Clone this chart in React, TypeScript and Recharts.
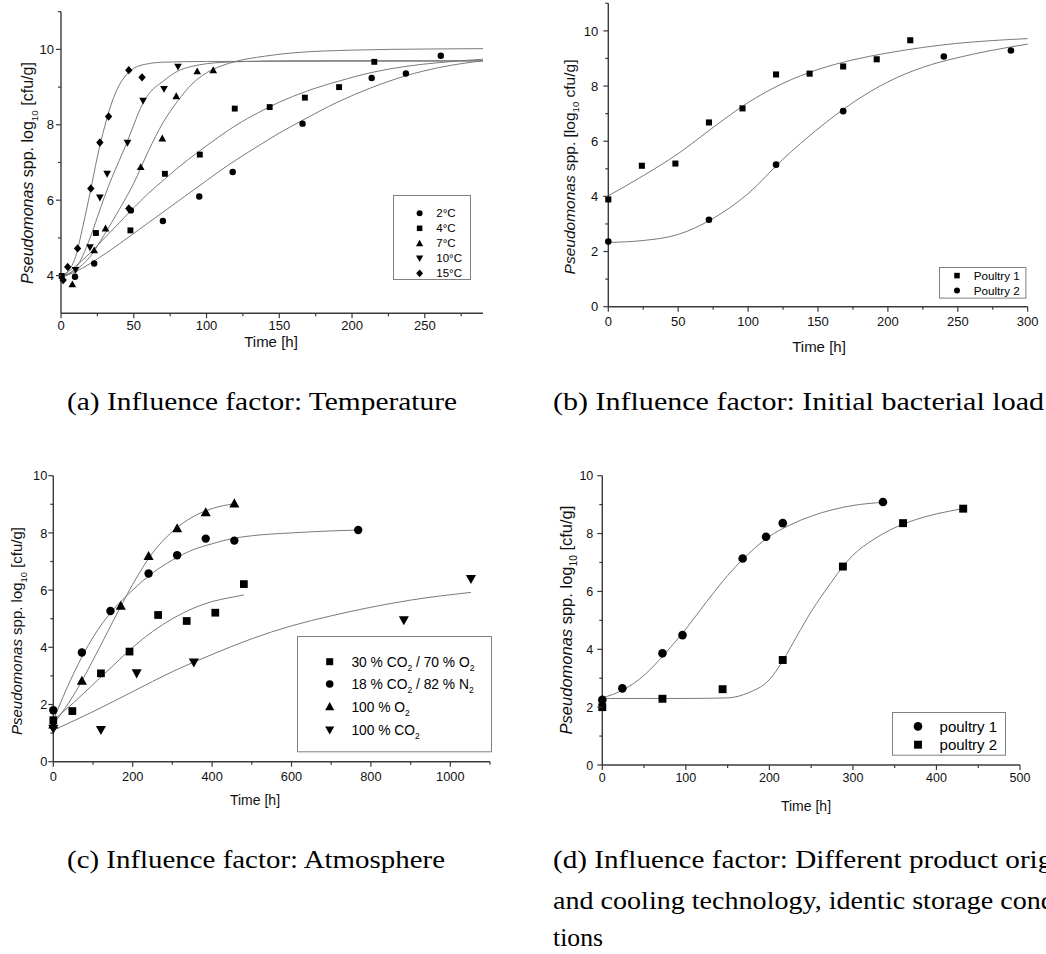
import React from "react";
import { ComposedChart, Line, Scatter, XAxis, YAxis, Legend } from "recharts";

const AXIS = "#3a3a3a";
const CURVE = "#7a7a7a";
const SANS = "'Liberation Sans', Arial, sans-serif";
const SERIF = "'Liberation Serif', 'Times New Roman', serif";

type Pair = [number, number];
type Kind = "circle" | "square" | "triangle" | "down" | "diamond";

// ---- (a) temperature: [time h, log10 cfu/g]
const tempLabels = ["2°C", "4°C", "7°C", "10°C", "15°C"];
const temp2C: Pair[] = [[9.6, 3.97], [22.8, 4.32], [48, 5.73], [70, 5.45], [95, 6.1], [118, 6.75], [166, 8.03], [213.5, 9.24], [237, 9.36], [261, 9.83]];
const temp4C: Pair[] = [[0.5, 3.99], [24, 5.13], [47.7, 5.2], [71.4, 6.7], [95.4, 7.21], [119.4, 8.43], [143.4, 8.47], [167.6, 8.72], [191.1, 9.0], [215.3, 9.67]];
const temp7C: Pair[] = [[7.8, 3.77], [22.8, 4.67], [30.6, 5.25], [54.8, 6.88], [69.6, 7.64], [79.2, 8.76], [93.6, 9.42], [104.6, 9.45]];
const temp10C: Pair[] = [[10, 4.15], [19.9, 4.75], [26.7, 6.07], [31.7, 6.7], [45.7, 7.52], [56.4, 8.64], [70.8, 8.95], [80.4, 9.54]];
const temp15C: Pair[] = [[1.5, 3.88], [4.6, 4.23], [11.4, 4.72], [20.5, 6.31], [26.7, 7.53], [32.7, 8.22], [46.6, 5.78], [46.6, 9.45], [55.7, 9.26]];
const temp2CFit: Pair[] = [[0, 3.95], [10, 4.1], [20, 4.32], [30, 4.57], [40, 4.84], [50, 5.12], [60, 5.4], [70, 5.68], [80, 5.96], [90, 6.24], [100, 6.52], [110, 6.8], [120, 7.06], [136, 7.45], [150, 7.78], [166, 8.12], [190, 8.6], [213, 8.98], [237, 9.3], [260, 9.52], [290, 9.7]];
const temp4CFit: Pair[] = [[0, 3.98], [10, 4.25], [20, 4.6], [30, 5.0], [40, 5.4], [50, 5.8], [60, 6.18], [71, 6.55], [80, 6.85], [95, 7.3], [110, 7.72], [120, 7.98], [136, 8.33], [150, 8.6], [168, 8.88], [191, 9.16], [215, 9.4], [237, 9.55], [260, 9.65], [290, 9.74]];
const temp7CFit: Pair[] = [[0, 3.98], [10, 4.15], [20, 4.5], [30, 5.1], [40, 5.75], [50, 6.45], [60, 7.3], [70, 8.05], [80, 8.62], [90, 9.08], [100, 9.38], [110, 9.56], [120, 9.68], [140, 9.82], [160, 9.91], [200, 9.98], [250, 10.01], [290, 10.02]];
const temp10CFit: Pair[] = [[0, 3.98], [10, 4.2], [20, 5.0], [25, 5.55], [30, 6.1], [35, 6.6], [40, 7.05], [45, 7.5], [50, 8.0], [56, 8.55], [60, 8.8], [70, 9.15], [80, 9.42], [90, 9.55], [100, 9.62], [120, 9.67], [160, 9.7], [290, 9.7]];
const temp15CFit: Pair[] = [[0, 3.98], [5, 4.12], [10, 4.5], [15, 5.3], [20, 6.2], [25, 7.15], [30, 7.95], [35, 8.6], [40, 9.05], [45, 9.33], [50, 9.5], [60, 9.62], [70, 9.66], [100, 9.68], [290, 9.69]];

// ---- (b) initial bacterial load
const loadLabels = ["Poultry 1", "Poultry 2"];
const loadP1: Pair[] = [[0, 3.89], [24, 5.11], [48, 5.19], [72, 6.68], [96, 7.19], [120, 8.42], [144, 8.45], [168, 8.71], [192, 8.97], [216, 9.66]];
const loadP2: Pair[] = [[0, 2.36], [72, 3.15], [120, 5.15], [168, 7.09], [240, 9.07], [288, 9.29]];
const loadP1Fit: Pair[] = [[0, 4.02], [25, 4.75], [50, 5.55], [75, 6.5], [100, 7.4], [125, 8.1], [150, 8.6], [175, 8.95], [200, 9.2], [225, 9.4], [250, 9.55], [275, 9.65], [300, 9.72]];
const loadP2Fit: Pair[] = [[0, 2.33], [25, 2.4], [50, 2.62], [75, 3.2], [100, 4.1], [125, 5.35], [150, 6.45], [175, 7.4], [200, 8.15], [225, 8.68], [250, 9.03], [275, 9.3], [300, 9.52]];

// ---- (c) atmosphere
const atmoLabels = ["30 % CO_2 / 70 % O_2", "18 % CO_2 / 82 % N_2", "100 % O_2", "100 % CO_2"];
const atmoCO2O2: Pair[] = [[0, 1.45], [48, 1.77], [120, 3.09], [192, 3.85], [264, 5.13], [336, 4.92], [408, 5.21], [480, 6.21]];
const atmoCO2N2: Pair[] = [[0, 1.8], [72, 3.82], [144, 5.27], [240, 6.58], [312, 7.22], [384, 7.8], [456, 7.73], [768, 8.1]];
const atmoO2: Pair[] = [[0, 1.3], [72, 2.83], [170, 5.45], [240, 7.19], [312, 8.16], [384, 8.72], [456, 9.03]];
const atmoCO2: Pair[] = [[0, 1.15], [120, 1.11], [210, 3.09], [354, 3.47], [883, 4.95], [1052, 6.39]];
const atmoCO2O2Fit: Pair[] = [[0, 1.45], [50, 2.05], [100, 2.7], [150, 3.35], [200, 4.0], [250, 4.55], [300, 5.0], [350, 5.35], [400, 5.6], [450, 5.75], [480, 5.83]];
const atmoCO2N2Fit: Pair[] = [[0, 1.45], [50, 3.05], [100, 4.35], [150, 5.3], [200, 6.0], [250, 6.6], [300, 7.05], [350, 7.4], [400, 7.62], [450, 7.8], [500, 7.9], [600, 8.0], [700, 8.07], [768, 8.1]];
const atmoO2Fit: Pair[] = [[0, 1.3], [50, 2.3], [100, 3.55], [150, 4.9], [200, 6.2], [250, 7.3], [300, 8.05], [350, 8.55], [400, 8.85], [456, 9.02]];
const atmoCO2Fit: Pair[] = [[0, 1.1], [100, 1.75], [200, 2.45], [300, 3.15], [400, 3.75], [500, 4.3], [600, 4.75], [700, 5.1], [800, 5.4], [900, 5.65], [1052, 5.92]];

// ---- (d) product origin / cooling
const originLabels = ["poultry 1", "poultry 2"];
const originP1: Pair[] = [[0, 2.25], [24, 2.65], [72, 3.86], [96, 4.49], [168, 7.14], [196, 7.89], [216, 8.36], [336, 9.09]];
const originP2: Pair[] = [[0, 2.0], [72, 2.29], [144, 2.62], [216, 3.63], [288, 6.86], [360, 8.36], [432, 8.86]];
const originP1Fit: Pair[] = [[0, 2.32], [25, 2.6], [50, 3.1], [75, 3.85], [100, 4.7], [125, 5.65], [150, 6.55], [175, 7.3], [200, 7.9], [225, 8.3], [250, 8.6], [275, 8.82], [300, 8.97], [336, 9.08]];
const originP2Fit: Pair[] = [[0, 2.3], [50, 2.3], [100, 2.3], [150, 2.32], [175, 2.5], [200, 2.95], [216, 3.6], [225, 4.05], [250, 5.3], [275, 6.35], [288, 6.86], [300, 7.25], [325, 7.8], [350, 8.2], [375, 8.48], [400, 8.68], [432, 8.86]];

// sub-figure captions
const captions = [
  { text: "(a) Influence factor: Temperature", x: 67, y: 410, len: 390 },
  { text: "(b) Influence factor: Initial bacterial load", x: 553, y: 410, len: 491 },
  { text: "(c) Influence factor: Atmosphere", x: 67, y: 868, len: 378 },
  { text: "(d) Influence factor: Different product origin", x: 553, y: 868, len: 522 },
  { text: "and cooling technology, identic storage condi-", x: 553, y: 909, len: 519 },
  { text: "tions", x: 553, y: 946, len: 50 },
];

const toPts = (arr: Pair[]) => arr.map(([x, y]) => ({ x, y }));

function Marker({ cx, cy, kind, r }: { cx: number; cy: number; kind: Kind; r: number }) {
  if (kind === "circle") return <circle cx={cx} cy={cy} r={r} fill="#000" />;
  if (kind === "square") {
    const s = r * 0.92;
    return <rect x={cx - s} y={cy - s} width={2 * s} height={2 * s} fill="#000" />;
  }
  if (kind === "diamond") {
    const w = r * 1.15, h = r * 1.3;
    return <path d={`M${cx} ${cy - h}L${cx + w} ${cy}L${cx} ${cy + h}L${cx - w} ${cy}Z`} fill="#000" />;
  }
  const w = r * 1.2, h = r * 1.05;
  if (kind === "triangle")
    return <path d={`M${cx} ${cy - h * 1.15}L${cx + w} ${cy + h * 0.9}L${cx - w} ${cy + h * 0.9}Z`} fill="#000" />;
  return <path d={`M${cx} ${cy + h * 1.15}L${cx + w} ${cy - h * 0.9}L${cx - w} ${cy - h * 0.9}Z`} fill="#000" />;
}

// "CO_2" -> CO with subscript 2
function Rich({ text, fs }: { text: string; fs: number }) {
  const parts = text.split(/_(\d+)/);
  return (
    <>
      {parts.map((p, i) =>
        i % 2 === 1 ? (
          <tspan key={i} fontSize={fs * 0.62} dy={fs * 0.32}>{p}</tspan>
        ) : (
          <tspan key={i} dy={i > 0 ? -fs * 0.32 : 0}>{p}</tspan>
        )
      )}
    </>
  );
}

type Series = { label: string; kind: Kind; points: Pair[]; fit: Pair[] };
type Box = { left: number; top: number; width: number; height: number };
type LegendSpec = Box & { rows: number[]; symX: number; textX: number; fs: number; r: number };

type PanelProps = {
  box: Box;
  plot: { l: number; t: number; r: number; b: number };
  xDomain: [number, number];
  yDomain: [number, number];
  xTicks: number[];
  xMajor: number[];
  yTicks: number[];
  yMajor: number[];
  series: Series[];
  r: number;
  fs: number;
  xLabelDy: number;
  yLabelGap: number;
  legend: LegendSpec;
};

function LegendBox({ spec, series }: { spec: LegendSpec; series: Series[] }) {
  return (
    <svg width={spec.width} height={spec.height} style={{ display: "block", overflow: "visible" }}>
      <rect x={0.5} y={0.5} width={spec.width - 1} height={spec.height - 1} fill="#fff" stroke="#808080" />
      {series.map((s, i) => (
        <g key={s.label}>
          <Marker cx={spec.symX} cy={spec.rows[i]} kind={s.kind} r={spec.r} />
          <text x={spec.textX} y={spec.rows[i] + spec.fs * 0.36} fontSize={spec.fs} fontFamily={SANS} fill="#000">
            <Rich text={s.label} fs={spec.fs} />
          </text>
        </g>
      ))}
    </svg>
  );
}

function Panel(p: PanelProps) {
  const { box, plot, legend } = p;
  const margin = {
    top: plot.t - box.top,
    right: box.left + box.width - plot.r,
    bottom: box.top + box.height - plot.b - 30,
    left: 0,
  };
  const xTick = (t: any) => {
    const major = p.xMajor.includes(t.payload.value);
    return (
      <g>
        <line x1={t.x} y1={t.y} x2={t.x} y2={t.y + (major ? 5 : 3)} stroke={AXIS} strokeWidth={1.2} />
        {major && (
          <text x={t.x} y={t.y + p.xLabelDy} textAnchor="middle" fontSize={p.fs} fontFamily={SANS} fill="#111">
            {t.payload.value}
          </text>
        )}
      </g>
    );
  };
  const yTick = (t: any) => {
    const major = p.yMajor.includes(t.payload.value);
    return (
      <g>
        <line x1={t.x} y1={t.y} x2={t.x - (major ? 5 : 3)} y2={t.y} stroke={AXIS} strokeWidth={1.2} />
        {major && (
          <text x={t.x - p.yLabelGap} y={t.y + p.fs * 0.36} textAnchor="end" fontSize={p.fs} fontFamily={SANS} fill="#111">
            {t.payload.value}
          </text>
        )}
      </g>
    );
  };
  return (
    <div style={{ position: "absolute", left: box.left, top: box.top }}>
      <ComposedChart width={box.width} height={box.height} margin={margin}>
        <XAxis
          type="number"
          dataKey="x"
          domain={p.xDomain}
          ticks={p.xTicks}
          interval={0}
          height={30}
          tickSize={0}
          tickMargin={0}
          tickLine={false}
          axisLine={{ stroke: AXIS, strokeWidth: 1.4 }}
          tick={xTick}
        />
        <YAxis
          type="number"
          dataKey="y"
          domain={p.yDomain}
          ticks={p.yTicks}
          interval={0}
          width={plot.l - box.left}
          tickSize={0}
          tickMargin={0}
          tickLine={false}
          axisLine={{ stroke: AXIS, strokeWidth: 1.4 }}
          tick={yTick}
        />
        {p.series.map((s) => (
          <Line
            key={s.label + "-fit"}
            data={toPts(s.fit)}
            dataKey="y"
            type="monotone"
            stroke={CURVE}
            strokeWidth={1}
            dot={false}
            activeDot={false}
            legendType="none"
            isAnimationActive={false}
          />
        ))}
        {p.series.map((s) => (
          <Scatter
            key={s.label}
            name={s.label}
            data={toPts(s.points)}
            dataKey="y"
            shape={(sp: any) => <Marker cx={sp.cx} cy={sp.cy} kind={s.kind} r={p.r} />}
            isAnimationActive={false}
          />
        ))}
        <Legend
          layout="vertical"
          align="center"
          verticalAlign="middle"
          wrapperStyle={{ left: legend.left - box.left, top: legend.top - box.top, width: legend.width, height: legend.height }}
          content={() => <LegendBox spec={legend} series={p.series} />}
        />
      </ComposedChart>
    </div>
  );
}

function YTitle({ cx, cy, fs, bracketLog }: { cx: number; cy: number; fs: number; bracketLog?: boolean }) {
  const sub = (
    <tspan fontSize={fs * 0.62} dy={fs * 0.3}>10</tspan>
  );
  return (
    <text transform={`translate(${cx + fs * 0.36},${cy}) rotate(-90)`} textAnchor="middle" fontSize={fs} fontFamily={SANS} fill="#111">
      <tspan fontStyle="italic">Pseudomonas</tspan>
      {bracketLog ? (
        <>
          <tspan>{" spp. [log"}</tspan>
          {sub}
          <tspan dy={-fs * 0.3}>{" cfu/g]"}</tspan>
        </>
      ) : (
        <>
          <tspan>{" spp. log"}</tspan>
          {sub}
          <tspan dy={-fs * 0.3}>{" [cfu/g]"}</tspan>
        </>
      )}
    </text>
  );
}

export default function App() {
  const kinds5: Kind[] = ["circle", "square", "triangle", "down", "diamond"];
  const tempSeries: Series[] = [
    { label: tempLabels[0], kind: kinds5[0], points: temp2C, fit: temp2CFit },
    { label: tempLabels[1], kind: kinds5[1], points: temp4C, fit: temp4CFit },
    { label: tempLabels[2], kind: kinds5[2], points: temp7C, fit: temp7CFit },
    { label: tempLabels[3], kind: kinds5[3], points: temp10C, fit: temp10CFit },
    { label: tempLabels[4], kind: kinds5[4], points: temp15C, fit: temp15CFit },
  ];
  const loadSeries: Series[] = [
    { label: loadLabels[0], kind: "square", points: loadP1, fit: loadP1Fit },
    { label: loadLabels[1], kind: "circle", points: loadP2, fit: loadP2Fit },
  ];
  const atmoSeries: Series[] = [
    { label: atmoLabels[0], kind: "square", points: atmoCO2O2, fit: atmoCO2O2Fit },
    { label: atmoLabels[1], kind: "circle", points: atmoCO2N2, fit: atmoCO2N2Fit },
    { label: atmoLabels[2], kind: "triangle", points: atmoO2, fit: atmoO2Fit },
    { label: atmoLabels[3], kind: "down", points: atmoCO2, fit: atmoCO2Fit },
  ];
  const originSeries: Series[] = [
    { label: originLabels[0], kind: "circle", points: originP1, fit: originP1Fit },
    { label: originLabels[1], kind: "square", points: originP2, fit: originP2Fit },
  ];

  return (
    <div style={{ position: "absolute", left: 0, top: 0, width: 1046, height: 954, background: "#fff", overflow: "hidden" }}>
      <Panel
        box={{ left: 0, top: 0, width: 530, height: 360 }}
        plot={{ l: 61, t: 11.7, r: 483, b: 313.3 }}
        xDomain={[0, 290]}
        yDomain={[3, 11]}
        xTicks={[0, 25, 50, 75, 100, 125, 150, 175, 200, 225, 250, 275]}
        xMajor={[0, 50, 100, 150, 200, 250]}
        yTicks={[4, 5, 6, 7, 8, 9, 10, 11]}
        yMajor={[4, 6, 8, 10]}
        series={tempSeries}
        r={3.2}
        fs={13}
        xLabelDy={16.6}
        yLabelGap={7}
        legend={{ left: 392.7, top: 195, width: 78, height: 85, rows: [18.3, 33.3, 48.3, 63.3, 78.3], symX: 26.6, textX: 43.3, fs: 11.5, r: 3 }}
      />
      <Panel
        box={{ left: 535, top: 0, width: 511, height: 360 }}
        plot={{ l: 608.3, t: 3.3, r: 1027.7, b: 306.7 }}
        xDomain={[0, 300]}
        yDomain={[0, 11]}
        xTicks={[0, 25, 50, 75, 100, 125, 150, 175, 200, 225, 250, 275, 300]}
        xMajor={[0, 50, 100, 150, 200, 250, 300]}
        yTicks={[0, 1, 2, 3, 4, 5, 6, 7, 8, 9, 10, 11]}
        yMajor={[0, 2, 4, 6, 8, 10]}
        series={loadSeries}
        r={3.3}
        fs={13}
        xLabelDy={19.6}
        yLabelGap={10}
        legend={{ left: 939.3, top: 266.7, width: 87.4, height: 31.6, rows: [8.6, 23.6], symX: 18, textX: 34.7, fs: 11.7, r: 3 }}
      />
      <Panel
        box={{ left: 0, top: 460, width: 530, height: 360 }}
        plot={{ l: 53.3, t: 475.7, r: 490, b: 761.7 }}
        xDomain={[0, 1100]}
        yDomain={[0, 10]}
        xTicks={[0, 100, 200, 300, 400, 500, 600, 700, 800, 900, 1000, 1100]}
        xMajor={[0, 200, 400, 600, 800, 1000]}
        yTicks={[0, 1, 2, 3, 4, 5, 6, 7, 8, 9, 10]}
        yMajor={[0, 2, 4, 6, 8, 10]}
        series={atmoSeries}
        r={4.2}
        fs={12.8}
        xLabelDy={19.5}
        yLabelGap={6}
        legend={{ left: 297.3, top: 636, width: 195, height: 116.3, rows: [25.7, 48, 70.7, 94], symX: 32.7, textX: 54.4, fs: 13.8, r: 3.8 }}
      />
      <Panel
        box={{ left: 535, top: 460, width: 511, height: 360 }}
        plot={{ l: 602.3, t: 475.7, r: 1020, b: 765 }}
        xDomain={[0, 500]}
        yDomain={[0, 10]}
        xTicks={[0, 50, 100, 150, 200, 250, 300, 350, 400, 450, 500]}
        xMajor={[0, 100, 200, 300, 400, 500]}
        yTicks={[0, 1, 2, 3, 4, 5, 6, 7, 8, 9, 10]}
        yMajor={[0, 2, 4, 6, 8, 10]}
        series={originSeries}
        r={4.3}
        fs={12.5}
        xLabelDy={17}
        yLabelGap={9}
        legend={{ left: 891.7, top: 712.3, width: 114, height: 43.7, rows: [14.4, 32.7], symX: 26, textX: 47.6, fs: 15, r: 4.3 }}
      />
      <svg width={1046} height={954} style={{ position: "absolute", left: 0, top: 0, pointerEvents: "none" }}>
        <YTitle cx={27} cy={173} fs={16} />
        <YTitle cx={569} cy={167} fs={15.5} bracketLog />
        <YTitle cx={17} cy={631} fs={15} />
        <YTitle cx={566} cy={620} fs={16.5} />
        <text x={271} y={347} textAnchor="middle" fontSize={15} fontFamily={SANS} fill="#111">Time [h]</text>
        <text x={819} y={352} textAnchor="middle" fontSize={15} fontFamily={SANS} fill="#111">Time [h]</text>
        <text x={255} y={805} textAnchor="middle" fontSize={14} fontFamily={SANS} fill="#111">Time [h]</text>
        <text x={806} y={811} textAnchor="middle" fontSize={14} fontFamily={SANS} fill="#111">Time [h]</text>
        {captions.map((c) => (
          <text key={c.text} x={c.x} y={c.y} fontSize={26} fontFamily={SERIF} fill="#000" textLength={c.len} lengthAdjust="spacingAndGlyphs">
            {c.text}
          </text>
        ))}
      </svg>
    </div>
  );
}
